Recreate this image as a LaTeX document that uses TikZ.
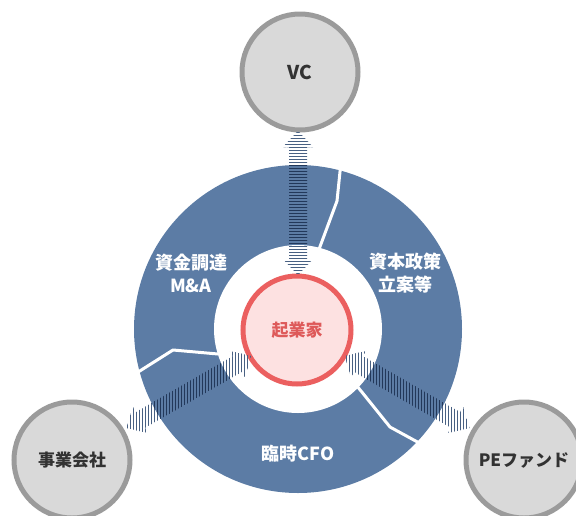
\documentclass[tikz,border=0pt]{standalone}
\usepackage{fontspec}
\setmainfont{Noto Sans CJK JP}
\usetikzlibrary{patterns}
\definecolor{ringblue}{RGB}{92,124,165}
\definecolor{stripe}{RGB}{34,56,90}
\definecolor{stripelight}{RGB}{72,96,130}
\definecolor{satfill}{RGB}{217,217,217}
\definecolor{satedge}{RGB}{155,155,155}
\definecolor{redfill}{RGB}{253,225,225}
\definecolor{rededge}{RGB}{235,95,95}
\definecolor{redtext}{RGB}{222,90,90}
\definecolor{dtext}{RGB}{50,50,50}
\pgfdeclarepatternformonly{thickh}{\pgfpoint{-1pt}{-1pt}}{\pgfpoint{4pt}{4pt}}{\pgfpoint{3pt}{3pt}}%
{\pgfsetlinewidth{1.5pt}\pgfpathmoveto{\pgfpoint{-1pt}{1.5pt}}\pgfpathlineto{\pgfpoint{4pt}{1.5pt}}\pgfusepath{stroke}}
\pgfdeclarepatternformonly{thickv}{\pgfpoint{-1pt}{-1pt}}{\pgfpoint{4pt}{4pt}}{\pgfpoint{3pt}{3pt}}%
{\pgfsetlinewidth{1.5pt}\pgfpathmoveto{\pgfpoint{1.5pt}{-1pt}}\pgfpathlineto{\pgfpoint{1.5pt}{4pt}}\pgfusepath{stroke}}
\newcommand{\dblarrowshape}{(54,0) -- (70,15) -- (70,9) -- (182,9) -- (182,15) -- (198,0) -- (182,-15) -- (182,-9) -- (70,-9) -- (70,-15) -- cycle}
\tikzset{
  sat/.style={circle, draw=satedge, fill=satfill, line width=5pt, minimum size=116pt, inner sep=0pt, font=\bfseries\fontsize{17}{19}\selectfont, text=dtext},
  ringlabel/.style={align=center, text=white, font=\bfseries\fontsize{18}{23}\selectfont},
  divider/.style={draw=white, line width=3pt, line join=round},
}
\begin{document}
\begin{tikzpicture}[x=1pt,y=-1pt]
\useasboundingbox (0,0) rectangle (576,515);
\clip (0,0) rectangle (576,515);
\coordinate (c) at (298,329);
% ring
\fill[ringblue] (c) circle[radius=164];
\fill[white] (c) circle[radius=84];
% dividers
\coordinate (t1) at (341,162); \coordinate (t2) at (337,201); \coordinate (t3) at (318,252);
\coordinate (l1) at (135,374); \coordinate (l2) at (173,350); \coordinate (l3) at (218,354);
\coordinate (r1) at (423,445); \coordinate (r2) at (390,427); \coordinate (r3) at (357,386);
\draw[divider] (t1) -- (t2) -- (t3);
\draw[divider] (l1) -- (l2) -- (l3);
\draw[divider] (r1) -- (r2) -- (r3);
% satellite circles
\node[sat] (vc) at (300,72) {\fontsize{19}{21}\selectfont VC};
\node[sat] (jg) at (72,460) {事業会社};
\node[sat] (pe) at (524,460) {PEファンド};
% center
\node[circle, draw=rededge, fill=redfill, line width=5pt, minimum size=108pt, inner sep=0pt, text=redtext, font=\bfseries\fontsize{17}{19}\selectfont] (kg) at (297,330) {起業家};
% arrows (light stripes on white)
\begin{scope}[shift={(c)}, rotate=90]
\fill[pattern=thickh, pattern color=stripelight] \dblarrowshape;
\end{scope}
\begin{scope}[shift={(c)}, rotate=210]
\fill[pattern=thickv, pattern color=stripelight] \dblarrowshape;
\end{scope}
\begin{scope}[shift={(c)}, rotate=330]
\fill[pattern=thickv, pattern color=stripelight] \dblarrowshape;
\end{scope}
% darker stripes on the ring
\begin{scope}[even odd rule]
\clip (c) circle[radius=164] (c) circle[radius=84];
\begin{scope}[shift={(c)}, rotate=90]
\fill[pattern=thickh, pattern color=stripe] \dblarrowshape;
\end{scope}
\begin{scope}[shift={(c)}, rotate=210]
\fill[pattern=thickv, pattern color=stripe] \dblarrowshape;
\end{scope}
\begin{scope}[shift={(c)}, rotate=330]
\fill[pattern=thickv, pattern color=stripe] \dblarrowshape;
\end{scope}
\end{scope}
% labels
\node[ringlabel] (l_a) at (191,273) {資金調達\\M\&A};
\node[ringlabel] (l_b) at (405,273) {資本政策\\立案等};
\node[ringlabel] (l_c) at (298,454) {臨時CFO};
\end{tikzpicture}
\end{document}
